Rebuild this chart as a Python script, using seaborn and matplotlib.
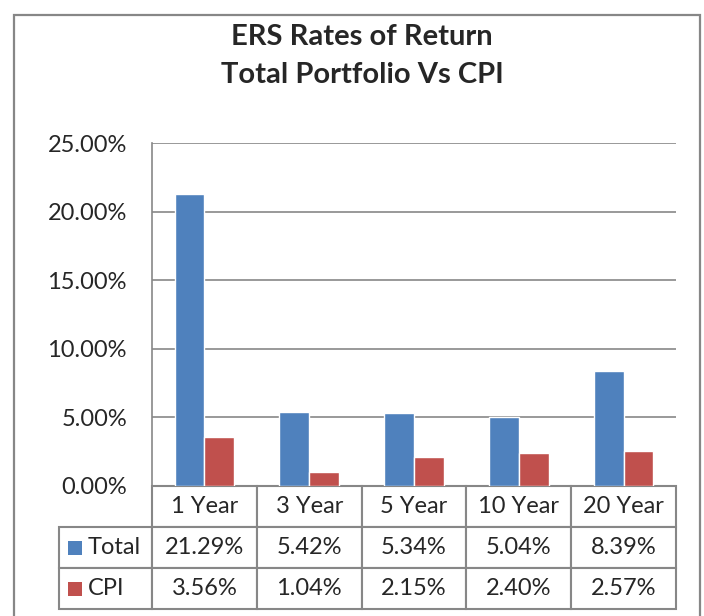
import matplotlib
matplotlib.use("Agg")
import matplotlib.pyplot as plt
import pandas as pd
import seaborn as sns
from matplotlib.patches import Rectangle
from matplotlib.table import Table

periods = ["1 Year", "3 Year", "5 Year", "10 Year", "20 Year"]
total = [21.29, 5.42, 5.34, 5.04, 8.39]
cpi = [3.56, 1.04, 2.15, 2.40, 2.57]
series = ["Total", "CPI"]
colors = ["#4F81BD", "#C0504D"]
yticks = [0, 5, 10, 15, 20, 25]

W, H = 704, 616
GRAY = "#878787"
FONT = "Lato"
FS = 17

df = pd.DataFrame({
    "period": periods * 2,
    "value": total + cpi,
    "series": ["Total"] * len(periods) + ["CPI"] * len(periods),
})

sns.set_style("white")
plt.rcParams["font.family"] = [FONT, "DejaVu Sans"]

fig = plt.figure(figsize=(W / 100, H / 100), dpi=100)


def fx(x):
    return x / W


def fy(y):
    return 1 - y / H


# outer frame (bottom cut off like the reference)
fig.patches.append(Rectangle((fx(14), fy(700)), fx(686), fy(15) - fy(700),
                             transform=fig.transFigure, fill=False,
                             edgecolor=GRAY, linewidth=1.6))

ax_l, ax_r, ax_t, ax_b = 152, 676, 143, 486
ax = fig.add_axes([fx(ax_l), fy(ax_b), fx(ax_r - ax_l), fy(ax_t) - fy(ax_b)])

sns.barplot(data=df, x="period", y="value", hue="series", order=periods,
            hue_order=series, palette=colors, width=0.57, gap=0,
            saturation=1, ax=ax, legend=False, zorder=3)

ax.set_ylim(0, 25)
ax.set_xlim(-0.5, len(periods) - 0.5)
ax.set_yticks(yticks)
ax.set_yticklabels([f"{v:.2f}%" for v in yticks])
ax.yaxis.grid(True, color=GRAY, linewidth=1.2)
ax.set_axisbelow(True)
ax.tick_params(axis="y", length=0, pad=18, labelsize=FS)
ax.set_xticks([])
ax.set_xlabel("")
ax.set_ylabel("")
for side in ["top", "right", "bottom"]:
    ax.spines[side].set_visible(False)
ax.spines["left"].set_color(GRAY)
ax.spines["left"].set_linewidth(1.2)

# title
fig.text(fx(362), fy(37), "ERS Rates of Return", ha="center", va="center",
         fontsize=21, fontweight="bold")
fig.text(fx(362), fy(75), "Total Portfolio Vs CPI", ha="center", va="center",
         fontsize=21, fontweight="bold")

# data table under the axis
tab_l, tab_b = 59, 609
label_w = ax_l - tab_l
col_w = (ax_r - ax_l) / len(periods)
row_h = (tab_b - ax_b) / 3
ax_w, ax_h = ax_r - ax_l, ax_b - ax_t

table = Table(ax, bbox=[(tab_l - ax_l) / ax_w, -(tab_b - ax_b) / ax_h,
                        (ax_r - tab_l) / ax_w, (tab_b - ax_b) / ax_h])
rows = [[""] + periods,
        [""] + [f"{v:.2f}%" for v in total],
        [""] + [f"{v:.2f}%" for v in cpi]]
for r, row in enumerate(rows):
    for c, txt in enumerate(row):
        w = label_w if c == 0 else col_w
        cell = table.add_cell(r, c, width=w, height=row_h, text=txt, loc="center")
        cell.set_edgecolor(GRAY)
        cell.set_linewidth(1.5)
        cell.get_text().set_fontsize(FS)
        cell.get_text().set_fontfamily([FONT, "DejaVu Sans"])
        if r == 0 and c == 0:
            cell.visible_edges = ""
table.auto_set_font_size(False)
ax.add_table(table)

# legend keys inside the row label cells
for i, (name, col) in enumerate(zip(series, colors)):
    yc = ax_b + row_h * (i + 1.5)
    fig.patches.append(Rectangle((fx(68), fy(yc + 7)), fx(14), fy(yc - 7) - fy(yc + 7),
                                 transform=fig.transFigure, facecolor=col,
                                 edgecolor="none"))
    fig.text(fx(88), fy(yc), name, ha="left", va="center", fontsize=FS)

fig.savefig("out.png", dpi=100)
